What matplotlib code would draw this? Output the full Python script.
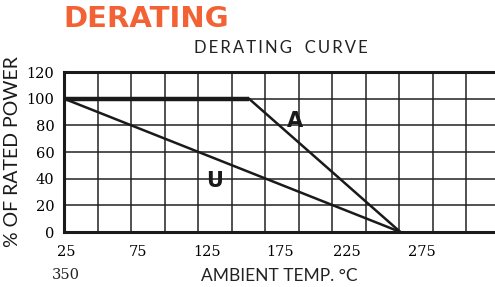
import matplotlib.pyplot as plt

# curve data
a_temp = [25, 163, 276]
a_power = [100, 100, 0]
u_temp = [25, 276]
u_power = [100, 0]

grid_x = list(range(25, 351, 25))
y_ticks = [0, 20, 40, 60, 80, 100, 120]
# printed labels sit on their own spacing, not on the grid lines
x_label_pos = [27, 80, 132, 186, 236, 292]
x_labels = ['25', '75', '125', '175', '225', '275']

W, H = 495, 287
fig = plt.figure(figsize=(W / 100, H / 100), dpi=100)
ax = fig.add_axes([64 / W, 1 - 232 / H, (499.5 - 64) / W, 160 / H])

ax.set_xlim(25, 350)
ax.set_ylim(0, 120)

for x in grid_x:
    ax.axvline(x, color='#222222', lw=1.1, zorder=1)
for y in y_ticks:
    ax.axhline(y, color='#222222', lw=1.1, zorder=1)

ax.plot(a_temp[:2], a_power[:2], color='#1a1a1a', lw=3.2, solid_capstyle='butt', zorder=3)
ax.plot(a_temp[1:], a_power[1:], color='#1a1a1a', lw=1.8, zorder=3)
ax.plot(u_temp, u_power, color='#1a1a1a', lw=1.8, zorder=3)

ax.text(197, 83, 'A', fontsize=15, fontweight='bold', family='DejaVu Sans',
        ha='center', va='center', color='#1a1a1a')
ax.text(137, 38, 'U', fontsize=15, fontweight='bold', family='DejaVu Sans',
        ha='center', va='center', color='#1a1a1a')

for s in ax.spines.values():
    s.set_linewidth(2.2)
    s.set_color('#1a1a1a')

ax.set_yticks(y_ticks)
ax.set_yticklabels([str(v) for v in y_ticks], family='DejaVu Serif', fontsize=10.5)
ax.set_xticks(x_label_pos)
ax.set_xticklabels(x_labels, family='DejaVu Serif', fontsize=10.5)
ax.tick_params(length=0, pad=7)
ax.tick_params(axis='x', pad=9)

ax.set_ylabel('% OF RATED POWER', family='Lato', fontsize=14, labelpad=4, color='#1a1a1a')

fig.text(63 / W, 1 - 19 / H, 'DERATING', fontsize=21, fontweight='bold',
         family='DejaVu Sans', color='#f26234', ha='left', va='center')
fig.text(281 / W, 1 - 48 / H, 'D E R A T I N G    C U R V E'.replace(' ', '\u2009').replace('\u2009\u2009\u2009\u2009', '   '),
         fontsize=12, family='Lato', color='#222222', ha='center', va='center')
fig.text(279 / W, 1 - 276 / H, 'AMBIENT TEMP. °C', fontsize=12.5, family='Lato',
         color='#222222', ha='center', va='center')
fig.text(66 / W, 1 - 275 / H, '350', fontsize=10.5, family='DejaVu Serif',
         color='#222222', ha='center', va='center')

fig.savefig('out.png', dpi=100)
